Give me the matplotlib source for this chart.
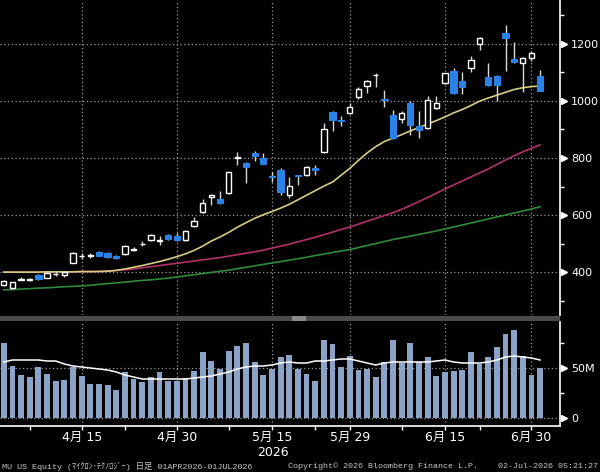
import numpy as np
import matplotlib.pyplot as plt
from matplotlib.patches import Rectangle
from matplotlib.transforms import blended_transform_factory

plt.rcParams['font.family'] = ['DejaVu Sans', 'Noto Sans CJK JP']

# daily bars, 01APR2026 - 01JUL2026 (63 sessions)
opens = [356, 345, 374, 374, 391, 381, 394, 391, 434, 457,
         458, 471, 467, 458, 465, 480, 499, 514, 510, 530,
         527, 513, 563, 610, 663, 656, 677, 802, 782, 817,
         799, 737, 757, 671, 740, 740, 764, 822, 960, 932,
         959, 1015, 1052, 1089, 1008, 951, 937, 994, 912, 906,
         974, 1062, 1106, 1068, 1114, 1199, 1085, 1087, 1239, 1146,
         1134, 1149, 1087]
highs = [374, 368, 384, 380, 393, 400, 402, 404, 472, 468,
         468, 474, 470, 461, 496, 490, 510, 534, 528, 533,
         538, 549, 594, 656, 674, 686, 753, 822, 785, 823,
         818, 751, 764, 735, 742, 772, 776, 922, 963, 947,
         992, 1050, 1074, 1097, 1038, 968, 966, 1000, 965, 1017,
         1017, 1099, 1114, 1100, 1157, 1222, 1133, 1090, 1266, 1207,
         1154, 1176, 1108]
lows = [352, 343, 372, 370, 375, 379, 388, 384, 432, 448,
        452, 456, 450, 446, 462, 474, 494, 510, 496, 515,
        510, 511, 560, 607, 636, 641, 674, 776, 712, 790,
        778, 718, 671, 659, 706, 736, 741, 818, 896, 912,
        955, 1005, 1027, 1048, 978, 866, 922, 880, 870, 900,
        970, 1058, 1024, 1024, 1100, 1178, 1052, 1001, 1106, 1132,
        1032, 1140, 1034]
closes = [370, 366, 376, 375, 377, 398, 396, 402, 469, 459,
          460, 459, 453, 450, 493, 482, 501, 530, 512, 518,
          514, 546, 581, 644, 671, 644, 751, 804, 770, 807,
          781, 733, 683, 702, 737, 768, 760, 901, 933, 928,
          978, 1041, 1071, 1092, 1004, 869, 956, 915, 898, 1003,
          992, 1096, 1027, 1048, 1143, 1219, 1056, 1054, 1221, 1136,
          1151, 1166, 1036]

ma_yellow = [401, 401, 401, 401, 401, 402, 402, 402, 402, 403,
             403, 403, 404, 407, 412, 418, 424, 431, 438, 446,
             455, 465, 477, 492, 510, 524, 540, 558, 574, 589,
             602, 613, 625, 638, 654, 670, 686, 702, 716, 740,
             764, 792, 818, 840, 858, 870, 882, 895, 907, 919,
             931, 944, 958, 970, 984, 999, 1010, 1020, 1030, 1040,
             1046, 1050, 1052]
ma_magenta = [401, 401, 401, 401, 401, 401, 402, 402, 402, 403,
              403, 404, 405, 407, 409, 412, 416, 420, 424, 428,
              432, 436, 440, 444, 448, 452, 457, 462, 467, 472,
              478, 485, 492, 499, 507, 515, 523, 532, 541, 550,
              559, 569, 579, 589, 599, 609, 621, 634, 648, 662,
              677, 692, 706, 720, 734, 748, 762, 778, 793, 808,
              822, 834, 846]
ma_green = [339, 340, 342, 343, 345, 346, 348, 350, 351, 353,
            355, 358, 361, 363, 366, 369, 372, 374, 377, 380,
            384, 388, 392, 396, 400, 404, 408, 413, 418, 423,
            428, 433, 438, 443, 448, 453, 459, 464, 470, 475,
            480, 487, 494, 501, 508, 515, 521, 527, 533, 539,
            545, 552, 559, 566, 573, 580, 587, 594, 601, 608,
            615, 622, 630]

# volume in millions
volume = [75, 52, 43, 41, 51, 44, 37, 38, 51, 42,
          34, 34, 33, 28, 46, 39, 36, 41, 46, 37,
          37, 40, 47, 66, 57, 49, 67, 72, 75, 56,
          43, 49, 61, 63, 49, 44, 37, 78, 74, 51,
          62, 48, 49, 41, 56, 78, 55, 75, 56, 61,
          42, 46, 47, 48, 66, 54, 61, 71, 84, 88,
          62, 43, 50]
vol_ma = [56, 58, 58, 58, 58, 57, 57, 54, 52, 51,
          50, 49, 48, 46, 43, 41, 39, 39, 39, 39,
          39, 39, 40, 41, 42, 44, 46, 49, 51, 52,
          52, 53, 55, 56, 55, 55, 57, 57, 58, 59,
          59, 57, 55, 53, 55, 56, 56, 56, 56, 56,
          57, 58, 56, 55, 55, 55, 56, 58, 61, 62,
          61, 60, 58]

date_ticks = [9, 20, 31, 40, 51, 61]
date_labels = ['4月 15', '4月 30', '5月 15', '5月 29', '6月 15', '6月 30']
minor_dates = [3, 14, 26, 36, 46, 55]
price_ticks = [400, 600, 800, 1000, 1200]
price_minor = [300, 500, 700, 900, 1100, 1300]
vol_ticks = [0, 50]
vol_labels = ['0', '50M']
vol_minor = [25, 75]

up_col = 'white'
dn_col = '#2a82e8'
wick_col = '#d8d8d8'
grid_col = '#9a9a9a'

W, H = 600, 472
fig = plt.figure(figsize=(6, 4.72), dpi=100, facecolor='black')
ax = fig.add_axes([0, 1 - 315 / H, 560 / W, 315 / H], facecolor='black')
axv = fig.add_axes([0, 1 - 426 / H, 560 / W, 104 / H], facecolor='black')

x = np.arange(len(closes))

for a in (ax, axv):
    a.set_xlim(-0.44, 64.3)
    for s in ('left', 'top'):
        a.spines[s].set_visible(False)
    a.spines['right'].set_color('white')
    a.spines['right'].set_linewidth(1.2)
    a.yaxis.tick_right()
    a.set_xticks(date_ticks)
    a.grid(True, color=grid_col, linestyle=(0, (1, 2)), linewidth=0.9)
    a.set_axisbelow(True)
ax.spines['bottom'].set_visible(False)
axv.spines['bottom'].set_color('white')
axv.spines['bottom'].set_linewidth(1.2)

# candles
for i in x:
    o, h, l, c = opens[i], highs[i], lows[i], closes[i]
    lo, hi = min(o, c), max(o, c)
    ax.vlines(i, l, lo, color=wick_col, linewidth=1, zorder=3)
    ax.vlines(i, hi, h, color=wick_col, linewidth=1, zorder=3)
    if c >= o:
        ax.bar(i, max(hi - lo, 1.5), bottom=lo, width=0.62, facecolor='black',
               edgecolor=up_col, linewidth=1, zorder=4)
    else:
        ax.bar(i, max(hi - lo, 1.5), bottom=lo, width=0.72, facecolor=dn_col,
               edgecolor=dn_col, linewidth=0.8, zorder=4)

ax.plot(x, ma_green, color='#2f8a3a', linewidth=1.2, zorder=2)
ax.plot(x, ma_magenta, color='#b3306e', linewidth=1.2, zorder=2)
ax.plot(x, ma_yellow, color='#d6cc82', linewidth=1.2, zorder=2)

ax.set_ylim(251, 1353)
ax.set_yticks(price_ticks)
ax.set_yticks(price_minor, minor=True)
ax.tick_params(axis='y', which='major', length=0, pad=8, labelsize=8, labelcolor='white')
ax.tick_params(axis='y', which='minor', length=3, width=1, color='white', direction='out')
ax.tick_params(axis='x', which='both', length=0, labelbottom=False)

# volume
axv.bar(x, volume, width=0.68, color='#8ca3c8', zorder=2)
axv.plot(x, vol_ma, color='white', linewidth=1.1, zorder=3)
axv.set_ylim(-8, 96)
axv.set_yticks(vol_ticks)
axv.set_yticklabels(vol_labels)
axv.set_yticks(vol_minor, minor=True)
axv.tick_params(axis='y', which='major', length=0, pad=8, labelsize=8, labelcolor='white')
axv.tick_params(axis='y', which='minor', length=3, width=1, color='white', direction='out')
axv.set_xticklabels(date_labels)
axv.set_xticks(minor_dates, minor=True)
axv.tick_params(axis='x', which='both', length=3, width=1, color='white', direction='out',
                labelsize=9, labelcolor='white', pad=0.5)

# bloomberg style arrow markers at the labelled ticks
for a, ticks in ((ax, price_ticks), (axv, vol_ticks)):
    tr = blended_transform_factory(a.transAxes, a.transData)
    a.plot(np.full(len(ticks), 1.007), ticks, linestyle='none', marker='>', markersize=4,
           color='white', transform=tr, clip_on=False)

# separator bar between panels
fig.patches.append(Rectangle((0, 1 - 321 / H), 560 / W, 5 / H, transform=fig.transFigure,
                             facecolor='#4a4a4a', edgecolor='none'))
fig.patches.append(Rectangle((292 / W, 1 - 321 / H), 14 / W, 5 / H, transform=fig.transFigure,
                             facecolor='#8a8a8a', edgecolor='none'))

fig.text(273 / W, 1 - 453 / H, '2026', color='white', fontsize=9, ha='center', va='center')

foot = ['Liberation Mono', 'Noto Sans CJK JP']
fig.text(2 / W, 1 - 466 / H, 'MU US Equity (ﾏｲｸﾛﾝ･ﾃｸﾉﾛｼﾞｰ) 日足 01APR2026-01JUL2026',
         color='#c8c8c8', fontsize=6, family=foot, va='center')
fig.text(288 / W, 1 - 466 / H, 'Copyright© 2026 Bloomberg Finance L.P.',
         color='#c8c8c8', fontsize=6, family=foot, va='center')
fig.text(598 / W, 1 - 466 / H, '02-Jul-2026 05:21:27',
         color='#c8c8c8', fontsize=6, family=foot, va='center', ha='right')

fig.savefig('out.png', dpi=100, facecolor='black')
